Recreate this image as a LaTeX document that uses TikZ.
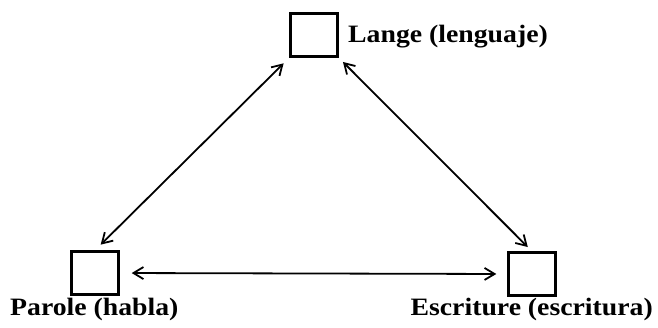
\documentclass[tikz,border=0pt]{standalone}
\usepackage{fontspec}
\setmainfont{Liberation Serif}[FakeStretch=1.11]
\usetikzlibrary{arrows.meta, positioning}

\begin{document}
\begin{tikzpicture}[
        x=1pt, y=-1pt,
        box/.style={rectangle, draw=black, line width=2.4pt, minimum width=47pt, minimum height=43pt, inner sep=0pt},
        lbl/.style={font=\fontsize{25}{30}\selectfont\bfseries, inner sep=0pt},
        arrow/.style={{Straight Barb[length=10pt,width=12pt]}-{Straight Barb[length=10pt,width=12pt]}, line width=1.8pt}
    ]
        \useasboundingbox (0,0) rectangle (658,327);
        % Nodes
        \node[box] (lange) at (314,35) {};
        \node[box] (parole) at (95,273) {};
        \node[box] (escrit) at (532,274) {};
        
        \node[lbl, anchor=base west] (langetxt) at (348,42) {Lange (lenguaje)};
        \node[lbl, anchor=base west] (paroletxt) at (10,315) {Parole (habla)};
        \node[lbl, anchor=base east] (escrittxt) at (653,315) {Escriture (escritura)};
        
        % Arrows
        \draw[arrow, shorten <=8pt, shorten >=8pt] (lange.south west) -- (parole.north);
        \draw[arrow, shorten <=6pt, shorten >=6pt] (lange.south east) -- (escrit.north);
        \draw[arrow, shorten <=12pt, shorten >=11pt] (parole.east) -- (escrit.west);
    \end{tikzpicture}
\end{document}
